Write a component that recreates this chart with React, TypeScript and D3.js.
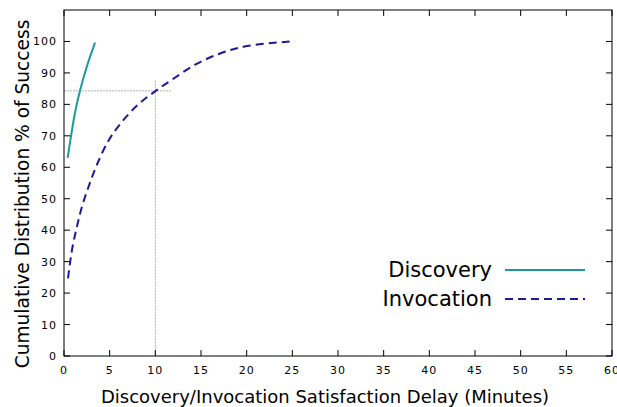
import React from "react";
import * as d3 from "d3";

const discoveryX = [0.4, 0.8, 1.24, 1.79, 2.52, 3.4];
const discoveryY = [63, 70.5, 77.9, 84.8, 92.2, 99.6];
const invocationX = [0.44, 0.88, 1.42, 1.97, 2.7, 3.6, 4.9, 6.3, 8.1, 10, 11.8, 14.35, 17.3, 20.2, 25.3];
const invocationY = [24.7, 33.8, 41.2, 47.5, 53.9, 60.8, 68.6, 74.3, 79.9, 84.2, 87.8, 92.6, 96.4, 98.6, 100.1];
const xTicks = [0, 5, 10, 15, 20, 25, 30, 35, 40, 45, 50, 55, 60];
const yTicks = [0, 10, 20, 30, 40, 50, 60, 70, 80, 90, 100];
const refX = 10;
const refY = 84.3;
const refXEnd = 11.8;
const refYEnd = 87.6;

export default function App() {
  const W = 617, H = 407;
  const L = 64, R = 612, T = 10, B = 356;
  const x = d3.scaleLinear().domain([0, 60]).range([L, R]);
  const y = d3.scaleLinear().domain([0, 110]).range([B, T]);
  const line = d3.line<[number, number]>().x(d => x(d[0])).y(d => y(d[1])).curve(d3.curveCatmullRom.alpha(0.5));
  const disc = discoveryX.map((v, i) => [v, discoveryY[i]] as [number, number]);
  const inv = invocationX.map((v, i) => [v, invocationY[i]] as [number, number]);
  const font = "DejaVu Sans, sans-serif";
  const teal = "#1e9898";
  const navy = "#1a1a9a";
  return (
    <svg width={W} height={H} style={{ position: "absolute", left: 0, top: 0 }} fontFamily={font}>
      <rect x={0} y={0} width={W} height={H} fill="#fff" />
      <line x1={x(0)} x2={x(refXEnd)} y1={y(refY)} y2={y(refY)} stroke="#b0b0b0" strokeWidth={1} strokeDasharray="2,1" />
      <line x1={x(refX)} x2={x(refX)} y1={y(refYEnd)} y2={y(0)} stroke="#b0b0b0" strokeWidth={1} strokeDasharray="2,1" />
      {xTicks.map(t => (
        <g key={"x" + t}>
          <line x1={x(t)} x2={x(t)} y1={B} y2={B - 6} stroke="#000" />
          <line x1={x(t)} x2={x(t)} y1={T} y2={T + 6} stroke="#000" />
          <text x={x(t)} y={374} textAnchor="middle" fontSize={11} letterSpacing={1}>{t}</text>
        </g>
      ))}
      {yTicks.map(t => (
        <g key={"y" + t}>
          <line x1={L} x2={L + 6} y1={y(t)} y2={y(t)} stroke="#000" />
          <line x1={R} x2={R - 6} y1={y(t)} y2={y(t)} stroke="#000" />
          <text x={57} y={y(t) + 4} textAnchor="end" fontSize={11} letterSpacing={1}>{t}</text>
        </g>
      ))}
      <rect x={L} y={T} width={R - L} height={B - T} fill="none" stroke="#000" strokeWidth={1} />
      <path d={line(disc) || ""} fill="none" stroke={teal} strokeWidth={2} />
      <path d={line(inv) || ""} fill="none" stroke={navy} strokeWidth={2} strokeDasharray="8,5" />
      <text x={492} y={277} textAnchor="end" fontSize={21}>Discovery</text>
      <line x1={505} x2={585} y1={270} y2={270} stroke={teal} strokeWidth={2} />
      <text x={492} y={306} textAnchor="end" fontSize={21}>Invocation</text>
      <line x1={505} x2={585} y1={299} y2={299} stroke={navy} strokeWidth={2} strokeDasharray="8,5" />
      <text x={325} y={403} textAnchor="middle" fontSize={18}>Discovery/Invocation Satisfaction Delay (Minutes)</text>
      <text transform="translate(29,194) rotate(-90)" textAnchor="middle" fontSize={18.6}>Cumulative Distribution % of Success</text>
    </svg>
  );
}
